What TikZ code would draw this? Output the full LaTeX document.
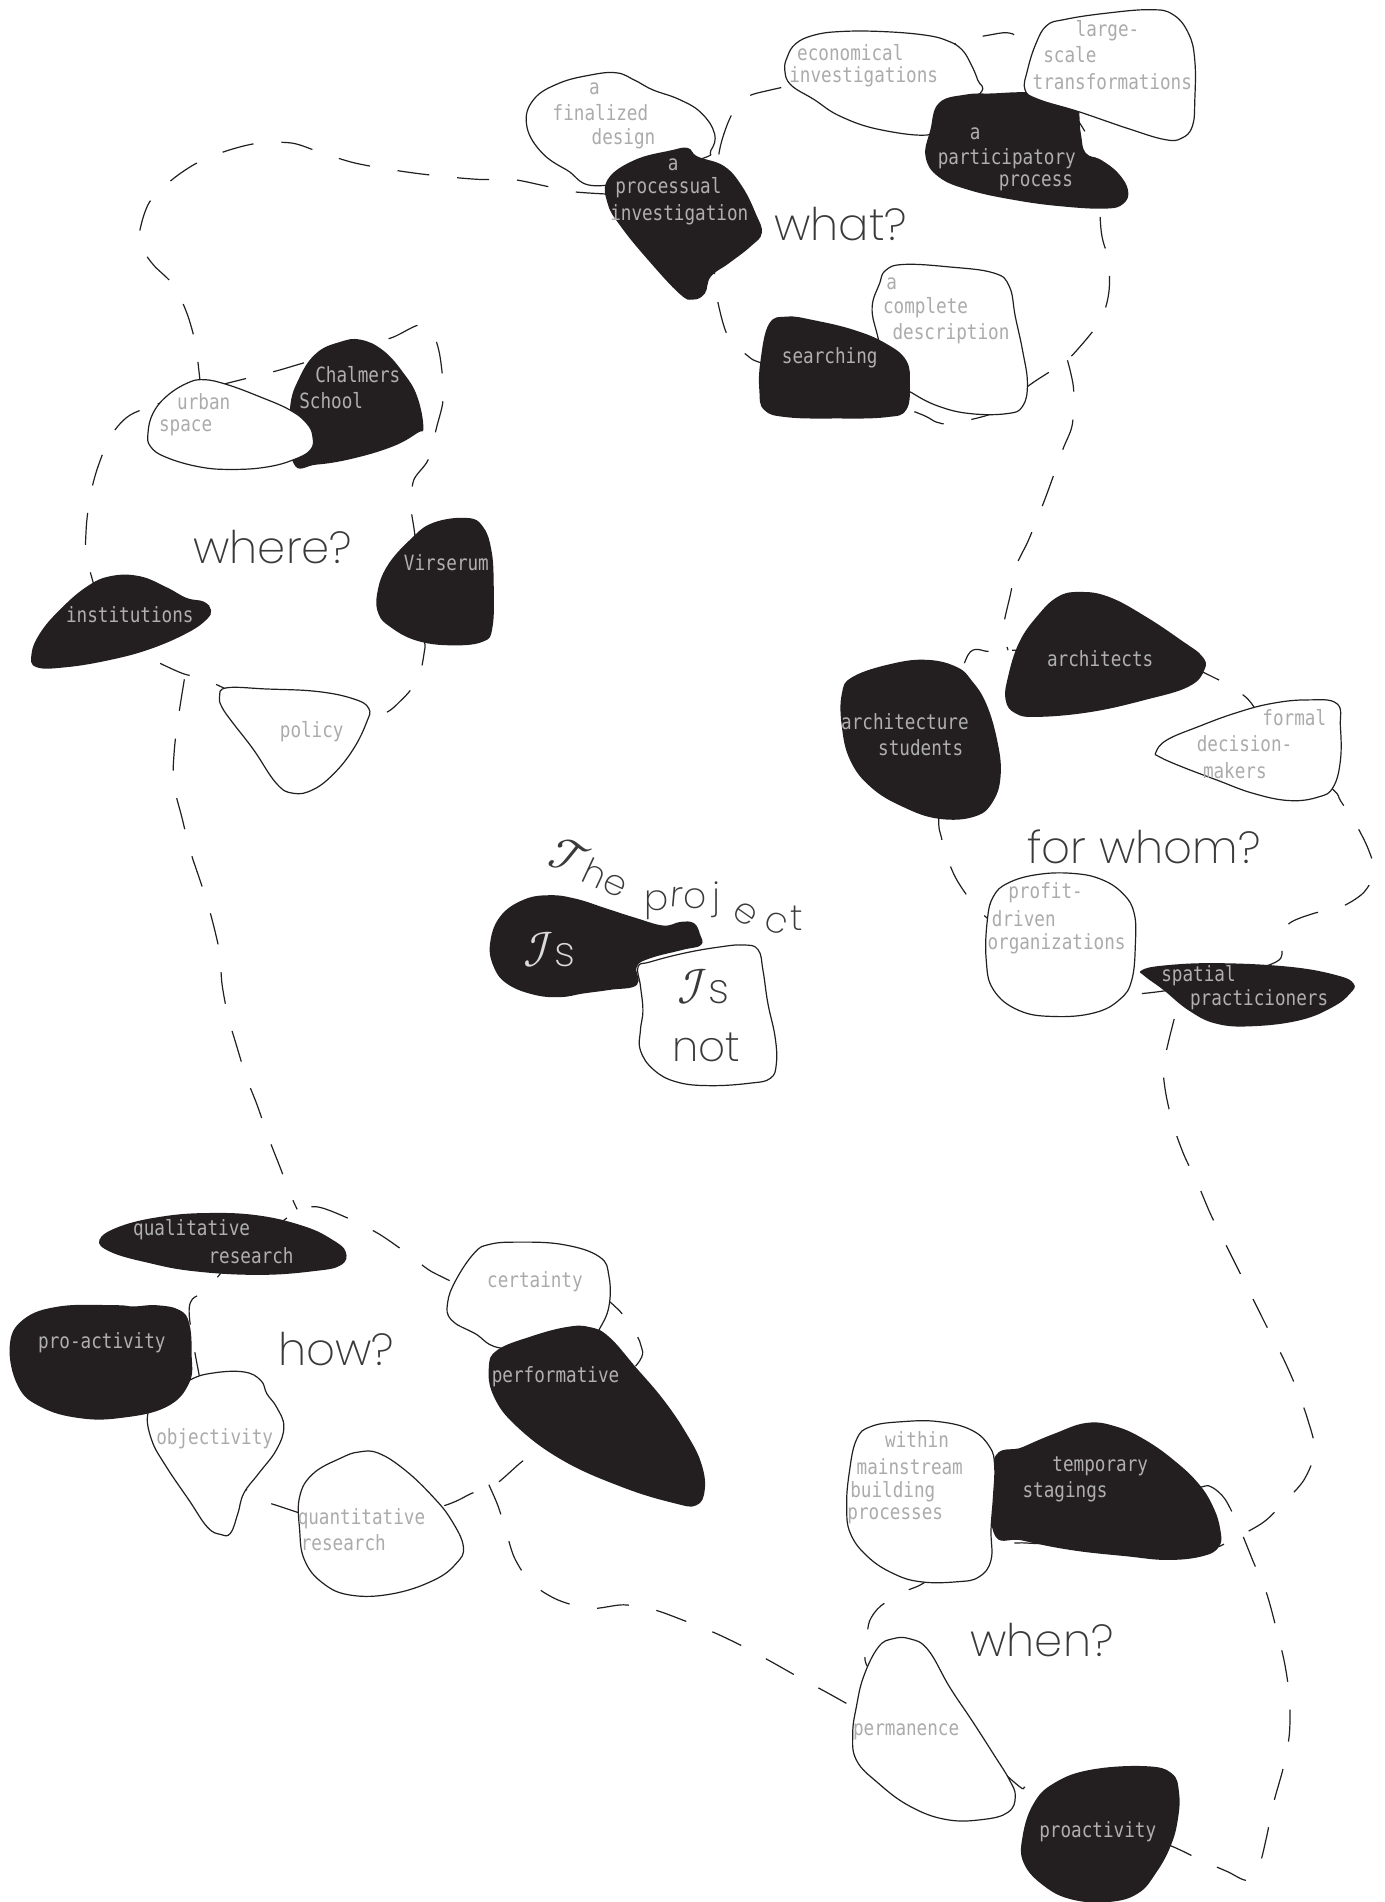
\documentclass[tikz,border=0pt]{standalone}
\usepackage{fontspec}
\newfontfamily\lblfont[FakeStretch=0.84]{DejaVu Sans Mono}
\newfontfamily\headfont{Poppins ExtraLight}
\newfontfamily\mfont{latinmodern-math.otf}
\definecolor{ink}{HTML}{231F20}
\definecolor{txtw}{HTML}{ABABAB}
\definecolor{txtb}{HTML}{AFAFAF}
\definecolor{headc}{HTML}{3A3A3A}
\definecolor{isc}{HTML}{DADADA}
\tikzset{
  blobw/.style={fill=white, draw=ink, line width=1.2pt},
  blobb/.style={fill=ink},
  trail/.style={draw=ink, line width=1.2pt, dash pattern=on 32pt off 28pt},
  lw/.style={font={\lblfont\fontsize{21}{24}\selectfont}, text=txtw, inner sep=0pt},
  lb/.style={font={\lblfont\fontsize{21}{24}\selectfont}, text=txtb, inner sep=0pt},
  head/.style={font={\headfont\fontsize{45}{50}\selectfont}, text=headc, inner sep=0pt},
  proj/.style={font={\headfont\fontsize{36}{40}\selectfont}, text=headc, inner sep=0pt},
  isw/.style={font={\headfont\fontsize{42}{46}\selectfont}, text=headc, inner sep=0pt},
  sm/.style={smooth cycle, tension=0.7},
}
\newcommand{\scrI}{{\mfont\fontsize{50}{54}\selectfont ℐ}}
\newcommand{\scrT}{{\mfont\fontsize{48}{52}\selectfont 𝒯}}
\begin{document}
\begin{tikzpicture}[x=1.213pt, y=-1.213pt]
\useasboundingbox (0,0) rectangle (1141,1568);
\fill[white] (0,0) rectangle (1141,1568);

% ---------- dashed trails ----------
% big arc from the processual investigation to urban space
\draw[trail] plot[smooth] coordinates {(501,160) (472,158) (448,153) (423,148) (397,148) (371,146) (344,143) (317,139) (291,134) (265,126) (241,118) (213,118) (188,124) (163,134) (142,148) (123,167) (115,192) (118,206) (127,219) (143,235) (154,258) (161,283) (165,315)};
% where-loop
\draw[trail] plot[smooth cycle] coordinates {(106,343) (130,333) (160,323) (187,316) (227,306) (251,299) (300,285) (324,278) (345,268) (356,273) (362,290) (365,313) (365,332) (360,352) (353,379) (341,396) (339,419) (342,441) (346,485) (350,528) (350,536) (345,559) (331,577) (311,590) (250,595) (173,562) (150,555) (126,544) (118,540) (88,510) (72,462) (71,437) (74,411) (80,387) (91,360)};
% long line down to the how-loop
\draw[trail] plot[smooth] coordinates {(152,560) (148,585) (144,615) (143,645) (150,674) (157,702) (166,729) (174,755) (181,785) (183,811) (188,838) (195,862) (203,888) (212,911) (221,937) (230,960) (240,986) (245,997)};
% how-loop
\draw[trail] plot[smooth cycle] coordinates {(245,997) (262,995) (284,1003) (312,1017) (338,1035) (359,1050) (400,1065) (490,1070) (508,1078) (519,1092) (528,1108) (525,1125) (470,1180) (444,1195) (429,1206) (408,1224) (389,1231) (367,1241) (300,1260) (228,1241) (207,1231) (180,1200) (156,1084) (171,1063) (200,1030) (234,1006)};
% T-junction stub and the lower path to permanence
\draw[trail] plot[smooth] coordinates {(403,1224) (410,1240) (416,1258) (424,1284) (438,1305) (460,1319) (487,1326) (514,1323) (539,1327) (564,1336) (589,1346) (612,1357) (636,1370) (659,1383) (683,1396) (708,1410)};
% what-loop
\draw[trail] plot[smooth cycle] coordinates {(590,150) (594,120) (603,95) (616,80) (636,74) (700,60) (784,37) (800,32) (815,29) (830,27) (840,32) (860,60) (900,120) (908,192) (914,214) (914,242) (906,266) (880,297) (863,308) (848,318) (820,340) (784,349) (772,348) (758,341) (700,320) (630,300) (616,293) (600,277) (592,250) (589,228) (590,190)};
% line from the what-loop down to the for-whom-loop
\draw[trail] plot[smooth] coordinates {(880,297) (885,320) (884,350) (876,371) (862,410) (848,445) (838,466) (833,490) (828,512) (828,525) (831,536)};
% for-whom-loop
\draw[trail] plot[smooth cycle] coordinates {(831,536) (815,537) (798,540) (780,600) (774,673) (776,690) (780,705) (788,724) (800,742) (814,757) (870,800) (923,816) (942,819) (1000,810) (1052,793) (1057,780) (1062,762) (1083,753) (1105,748) (1124,736) (1133,719) (1128,700) (1118,680) (1105,660) (1099,651) (1060,620) (1031,579) (1020,570) (1010,563) (950,540)};
% line from spatial practicioners to temporary stagings
\draw[trail] plot[smooth] coordinates {(968,840) (963,860) (959,880) (961,901) (967,927) (976,952) (987,975) (998,1001) (1010,1025) (1022,1049) (1034,1073) (1046,1097) (1058,1120) (1069,1145) (1078,1170) (1084,1196) (1075,1220) (1058,1239) (1040,1256) (1005,1275)};
% when-loop
\draw[trail] plot[smooth cycle] coordinates {(990,1226) (999,1226) (1010,1236) (1022,1260) (1033,1287) (1044,1313) (1052,1342) (1059,1371) (1063,1399) (1063,1429) (1058,1457) (1050,1486) (1044,1515) (1038,1538) (1028,1550) (1012,1543) (989,1533) (966,1522) (900,1495) (848,1474) (837,1470) (760,1400) (716,1375) (715,1350) (717,1336) (726,1324) (746,1312) (763,1304) (800,1275) (839,1272) (870,1270) (950,1240)};

% ---------- what? ----------
\path[blobw] plot[sm] coordinates {(434,102) (440,82) (460,69) (486,62) (508,60) (523,66) (538,74) (560,82) (578,93) (589,110) (586,124) (575,132) (497,153) (467,140) (445,124)};
\path[blobb] plot[sm] coordinates {(501,148) (523,132) (553,124) (567,122) (575,129) (597,137) (612,154) (623,176) (628,192) (619,203) (601,217) (586,228) (581,242) (571,247) (560,242) (534,214) (512,187) (501,168)};
\path[blobw] plot[sm] coordinates {(649,47) (656,36) (671,29) (693,26) (727,26) (763,29) (782,34) (793,41) (800,52) (806,66) (808,77) (778,99) (767,111) (726,107) (693,96) (671,82) (652,70) (647,58)};
\path[blobb] plot[sm] coordinates {(767,107) (774,85) (796,78) (819,77) (843,76) (871,77) (887,82) (891,110) (895,126) (908,132) (922,143) (930,157) (926,168) (911,172) (874,170) (837,165) (800,157) (774,146) (763,129)};
\path[blobw] plot[sm] coordinates {(863,21) (878,16) (911,11) (948,8) (967,12) (980,28) (985,50) (985,82) (983,104) (974,114) (960,115) (930,106) (889,92) (856,82) (845,74) (847,58) (854,36)};
\path[blobw] plot[sm] coordinates {(730,223) (745,218) (782,220) (819,225) (832,236) (837,261) (843,289) (847,316) (843,335) (830,341) (800,341) (774,335) (752,324) (734,311) (723,275) (719,253) (725,234)};
\path[blobb] plot[sm] coordinates {(634,267) (649,261) (671,264) (704,272) (730,283) (747,297) (750,316) (747,338) (730,344) (690,345) (649,344) (630,338) (626,322) (627,297)};

% ---------- where? ----------
\path[blobb] plot[sm] coordinates {(239,338) (247,311) (261,291) (280,282) (297,280) (316,289) (333,308) (344,327) (349,352) (344,357) (324,368) (291,378) (261,383) (242,382)};
\path[blobw] plot[sm] coordinates {(122,357) (126,341) (137,327) (154,316) (168,313) (187,317) (214,327) (239,338) (253,349) (258,360) (256,371) (242,379) (220,385) (192,387) (165,385) (137,377) (124,368)};
\path[blobb] plot[sm] coordinates {(311,489) (319,467) (338,445) (357,431) (385,427) (398,434) (405,453) (407,481) (406,517) (398,529) (371,532) (343,528) (322,517) (312,506)};
\path[blobb] plot[sm] coordinates {(26,539) (33,522) (49,503) (71,484) (91,475) (115,475) (137,484) (154,493) (168,496) (174,503) (170,511) (154,522) (124,535) (91,544) (55,550) (30,550)};
\path[blobw] plot[sm] coordinates {(181,574) (187,567) (220,568) (261,570) (291,576) (304,584) (302,596) (291,618) (275,638) (258,651) (242,654) (228,646) (209,618) (192,596) (183,583)};

% ---------- for whom? ----------
\path[blobb] plot[sm] coordinates {(831,558) (840,530) (855,508) (872,492) (890,488) (914,492) (944,508) (974,528) (991,541) (993,552) (980,566) (944,577) (899,587) (855,591) (837,588) (829,577)};
\path[blobb] plot[sm] coordinates {(694,572) (703,558) (736,547) (765,544) (789,550) (801,561) (813,580) (822,610) (825,638) (819,660) (804,673) (774,675) (744,665) (718,649) (701,627) (694,599)};
\path[blobw] plot[sm] coordinates {(953,620) (962,610) (988,599) (1018,588) (1048,580) (1078,577) (1102,580) (1105,599) (1105,627) (1099,649) (1087,657) (1063,660) (1033,654) (1003,643) (974,632) (956,624)};
\path[blobw] plot[sm] coordinates {(819,739) (831,728) (855,721) (884,720) (908,725) (926,737) (935,753) (936,778) (933,808) (923,824) (902,835) (869,838) (840,833) (819,816) (813,791) (814,758)};
\path[blobb] plot[sm] coordinates {(941,800) (959,796) (1003,794) (1063,797) (1102,804) (1116,811) (1113,819) (1099,830) (1072,841) (1033,846) (1003,844) (980,833) (959,816) (944,805)};

% ---------- the project ----------
\path[blobb] plot[sm] coordinates {(404,778) (412,756) (431,742) (453,738) (475,741) (500,749) (525,757) (547,763) (561,760) (572,761) (577,770) (578,779) (563,783) (536,790) (525,797) (525,812) (503,816) (481,819) (462,822) (440,820) (418,811) (407,797)};
\path[blobw] plot[sm] coordinates {(526,797) (536,793) (563,786) (591,781) (613,779) (625,783) (629,800) (633,827) (639,855) (640,877) (635,889) (618,893) (585,895) (558,892) (539,882) (528,866) (528,849) (530,833) (528,813)};

% ---------- how? ----------
\path[blobb] plot[sm] coordinates {(82,1022) (99,1011) (133,1003) (171,1000) (213,1002) (251,1011) (274,1022) (285,1032) (281,1043) (258,1048) (213,1051) (160,1048) (122,1041) (91,1032)};
\path[blobw] plot[sm] coordinates {(122,1165) (133,1154) (156,1138) (175,1132) (201,1131) (215,1138) (220,1149) (228,1160) (234,1176) (228,1195) (213,1215) (201,1231) (196,1248) (190,1264) (182,1265) (171,1259) (156,1237) (137,1209) (125,1187)};
\path[blobb] plot[sm] coordinates {(8,1110) (19,1088) (49,1077) (95,1076) (110,1077) (129,1076) (148,1080) (156,1091) (158,1116) (156,1140) (137,1160) (99,1169) (65,1169) (34,1160) (15,1143)};
\path[blobw] plot[sm] coordinates {(247,1234) (258,1215) (281,1202) (296,1197) (312,1198) (334,1212) (357,1234) (372,1253) (382,1275) (376,1289) (357,1303) (323,1314) (289,1315) (266,1305) (251,1286) (247,1261)};
\path[blobw] plot[sm] coordinates {(369,1074) (376,1055) (391,1033) (403,1026) (426,1024) (464,1026) (494,1036) (502,1052) (502,1077) (494,1096) (486,1107) (418,1112) (391,1099) (372,1088)};
\path[blobb] plot[sm] coordinates {(403,1127) (410,1113) (437,1102) (467,1094) (486,1094) (502,1102) (524,1127) (547,1154) (566,1182) (578,1206) (581,1228) (574,1241) (555,1239) (513,1226) (464,1204) (426,1176) (407,1151)};

% ---------- when? ----------
\path[blobb] plot[sm] coordinates {(819,1204) (843,1193) (869,1182) (896,1173) (920,1176) (944,1187) (968,1204) (988,1223) (1000,1242) (1006,1261) (1005,1275) (991,1283) (962,1286) (929,1283) (884,1278) (843,1270) (819,1263)};
\path[blobw] plot[sm] coordinates {(706,1187) (718,1176) (744,1172) (774,1172) (801,1179) (816,1193) (820,1209) (819,1234) (817,1261) (817,1286) (807,1300) (789,1304) (759,1304) (736,1297) (715,1283) (701,1264) (698,1242) (700,1215)};
\path[blobw] plot[sm] coordinates {(706,1407) (712,1382) (724,1358) (736,1351) (750,1351) (765,1360) (783,1391) (801,1418) (819,1446) (832,1467) (837,1481) (831,1494) (810,1500) (780,1500) (750,1489) (724,1470) (706,1451) (703,1429)};
\path[blobb] plot[sm] coordinates {(843,1514) (852,1487) (869,1470) (899,1459) (944,1456) (966,1462) (972,1478) (971,1500) (965,1522) (953,1544) (938,1561) (914,1568) (884,1566) (861,1555) (844,1536)};

% ---------- labels ----------
\node[lw] (fd1) at (490,73) {a};
\node[lw] (fd2) at (495,93) {finalized};
\node[lw] (fd3) at (514,114) {design};
\node[lb] (pi1) at (555,136) {a};
\node[lb] (pi2) at (551,155) {processual};
\node[lb] (pi3) at (560,177) {investigation};
\node[lw] (ei1) at (701,43) {economical};
\node[lw] (ei2) at (712,63) {investigations};
\node[lw] (ls1) at (913,25) {large-};
\node[lw] (ls2) at (882,45) {scale};
\node[lw] (ls3) at (917,67) {transformations};
\node[lb] (pp1) at (804,110) {a};
\node[lb] (pp2) at (830,131) {participatory};
\node[lb] (pp3) at (854,151) {process};
\node[lw] (cd1) at (735,234) {a};
\node[lw] (cd2) at (763,254) {complete};
\node[lw] (cd3) at (784,275) {description};
\node[lb] (se) at (684,295) {searching};
\node[head] (what) at (693,185) {what?};

\node[lw] (us1) at (168,331) {urban};
\node[lw] (us2) at (153,353) {space};
\node[lb] (cs1) at (295,309) {Chalmers};
\node[lb] (cs2) at (273,330) {School};
\node[lb] (vi) at (368,464) {Virserum};
\node[lb] (in) at (107,507) {institutions};
\node[lw] (po) at (257,603) {policy};
\node[head] (where) at (225,451) {where?};

\node[lb] (ar) at (907,543) {architects};
\node[lb] (as1) at (746,595) {architecture};
\node[lb] (as2) at (759,616) {students};
\node[lw] (fm1) at (1067,592) {formal};
\node[lw] (fm2) at (1026,613) {decision-};
\node[lw] (fm3) at (1018,635) {makers};
\node[head] (whom) at (943,698) {for whom?};
\node[lw] (pd1) at (862,736) {profit-};
\node[lw] (pd2) at (844,757) {driven};
\node[lw] (pd3) at (871,778) {organizations};
\node[lb] (sp1) at (988,804) {spatial};
\node[lb] (sp2) at (1038,824) {practicioners};

\node[proj, rotate=-25, anchor=base] (the) at (481,727) {\scrT he};
\node[proj, anchor=base] (pj1) at (541,751) {p};
\node[proj, rotate=-5, anchor=base] (pj2) at (557,748) {r};
\node[proj, anchor=base] (pj3) at (573,749) {o};
\node[proj, anchor=base] (pj4) at (591,749) {j};
\node[proj, rotate=-35, anchor=base] (pj5) at (610,760) {e};
\node[proj, rotate=-20, anchor=base] (pj6) at (637,769) {c};
\node[proj, anchor=base] (pj7) at (657,767) {t};
\node[isw, text=isc, anchor=base] (is1) at (453,797) {\scrI s};
\node[isw, anchor=base] (is2) at (580,827) {\scrI s};
\node[isw, anchor=base] (isn) at (582,875) {not};

\node[lb] (qr1) at (158,1014) {qualitative};
\node[lb] (qr2) at (207,1035) {research};
\node[lb] (pa) at (84,1107) {pro-activity};
\node[lw] (ob) at (177,1186) {objectivity};
\node[lw] (qn1) at (298,1252) {quantitative};
\node[lw] (qn2) at (283,1272) {research};
\node[lw] (ce) at (441,1057) {certainty};
\node[lb] (pf) at (458,1135) {performative};
\node[head] (how) at (277,1112) {how?};

\node[lw] (wm1) at (756,1187) {within};
\node[lw] (wm2) at (750,1209) {mainstream};
\node[lw] (wm3) at (736,1230) {building};
\node[lw] (wm4) at (738,1250) {processes};
\node[lb] (ts1) at (907,1209) {temporary};
\node[lb] (ts2) at (878,1230) {stagings};
\node[head] (when) at (859,1352) {when?};
\node[lw] (pm) at (747,1428) {permanence};
\node[lb] (pr) at (905,1510) {proactivity};
\end{tikzpicture}
\end{document}
